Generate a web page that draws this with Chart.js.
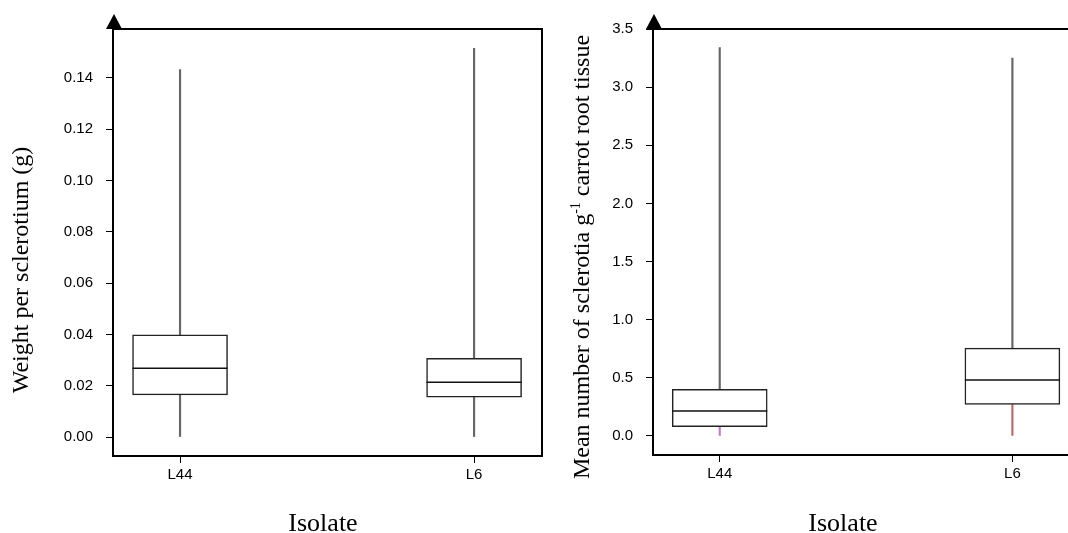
<!DOCTYPE html>
<html lang="en">
<head>
<meta charset="UTF-8">
<title>Sclerotia by isolate</title>
<script src="https://cdn.jsdelivr.net/npm/chart.js"></script>
<style>
  body {
    margin: 0;
    width: 1068px;
    height: 533px;
    overflow: hidden;
    position: relative;
    background: #fff;
    font-family: "Liberation Serif", "Times New Roman", serif;
    color: #000;
  }
  canvas { position: absolute; top: 0; }
  #weightChart { left: 0; }
  #countChart { left: 560px; }
  .title { position: absolute; white-space: nowrap; text-align: center; }
  .xtitle { font-size: 26px; line-height: 26px; width: 200px; top: 510px; }
  .ytitle { font-size: 24px; line-height: 24px; width: 520px; height: 24px; transform: rotate(-90deg); }
  sup { font-size: 14px; line-height: 0; vertical-align: 9px; }
</style>
</head>
<body>
<canvas id="weightChart" width="560" height="533"></canvas>
<canvas id="countChart" width="538" height="533"></canvas>

<div class="title ytitle" style="left:-240px; top:258px;">Weight per sclerotium (g)</div>
<div class="title xtitle" style="left:223px;">Isolate</div>
<div class="title ytitle" style="left:321px; top:245px;">Mean number of sclerotia g<sup>-1</sup> carrot root tissue</div>
<div class="title xtitle" style="left:743px;">Isolate</div>

<script>
const isolates = ['L44', 'L6'];

// weight per sclerotium (g)
const weightMin = [0, 0];
const weightQ1 = [0.0164, 0.0155];
const weightMedian = [0.0268, 0.0213];
const weightQ3 = [0.0398, 0.0307];
const weightMax = [0.1432, 0.1515];
const weightTicks = [0, 0.02, 0.04, 0.06, 0.08, 0.10, 0.12, 0.14];
const weightTickLabels = ['0.00', '0.02', '0.04', '0.06', '0.08', '0.10', '0.12', '0.14'];

// mean number of sclerotia per g of carrot root
const countMin = [0, 0];
const countQ1 = [0.08, 0.27];
const countMedian = [0.215, 0.48];
const countQ3 = [0.40, 0.755];
const countMax = [3.34, 3.25];
const countTicks = [0, 0.5, 1.0, 1.5, 2.0, 2.5, 3.0, 3.5];
const countTickLabels = ['0.0', '0.5', '1.0', '1.5', '2.0', '2.5', '3.0', '3.5'];

const tickFont = { family: 'Arial, "Liberation Sans", sans-serif', size: 15 };

const ranges = (lo, hi) => lo.map((v, i) => ({ x: i, y: [v, hi[i]] }));
const points = (ys) => ys.map((y, i) => ({ x: i, y }));

// top and right edges of the plot box, plus the arrow on the y axis
const framePlugin = {
  id: 'frame',
  afterDraw(chart) {
    const { ctx, chartArea: a } = chart;
    ctx.save();
    ctx.strokeStyle = '#000';
    ctx.lineWidth = 2;
    ctx.beginPath();
    ctx.moveTo(a.left, a.top);
    ctx.lineTo(a.right, a.top);
    ctx.lineTo(a.right, a.bottom);
    ctx.stroke();
    ctx.fillStyle = '#000';
    ctx.beginPath();
    ctx.moveTo(a.left - 7, a.top);
    ctx.lineTo(a.left + 1, a.top - 15);
    ctx.lineTo(a.left + 9, a.top);
    ctx.closePath();
    ctx.fill();
    ctx.restore();
  }
};

function boxChart(id, d) {
  return new Chart(document.getElementById(id), {
    type: 'bar',
    data: {
      datasets: [
        { data: points(d.median), type: 'line', showLine: false, pointStyle: 'line',
          pointRadius: 47.5, borderColor: '#111', borderWidth: 1.5, order: 0 },
        { data: ranges(d.q1, d.q3), backgroundColor: '#fff', borderColor: '#222', borderWidth: 1.5,
          borderSkipped: false, barThickness: 95, grouped: false, order: 1 },
        { data: ranges(d.min, d.q1), backgroundColor: d.lowColor, barThickness: 1.5, grouped: false, order: 2 },
        { data: ranges(d.q3, d.max), backgroundColor: '#666', barThickness: 1.5, grouped: false, order: 2 }
      ]
    },
    options: {
      responsive: false,
      animation: false,
      events: [],
      layout: { autoPadding: false, padding: { top: 29, right: 18, left: 0, bottom: 0 } },
      plugins: { legend: { display: false }, tooltip: { enabled: false } },
      scales: {
        x: {
          type: 'linear',
          min: -0.228,
          max: 1.231,
          offset: false,
          afterBuildTicks: s => { s.ticks = isolates.map((_, i) => ({ value: i })); },
          afterFit: s => { s.height = d.xHeight; },
          ticks: { callback: v => isolates[v], color: '#000', font: tickFont, padding: 3, maxRotation: 0, autoSkip: false },
          grid: { drawOnChartArea: false, drawTicks: true, tickLength: 7, color: '#000', offset: false },
          border: { color: '#000', width: 2 }
        },
        y: {
          min: d.yMin,
          max: d.yMax,
          afterBuildTicks: s => { s.ticks = d.ticks.map(v => ({ value: v })); },
          afterFit: s => { s.width = d.yWidth; },
          ticks: { callback: (v, i) => d.tickLabels[i], color: '#000', font: tickFont, padding: 13, autoSkip: false },
          grid: { drawOnChartArea: false, drawTicks: true, tickLength: 7, color: '#000' },
          border: { color: '#000', width: 2 }
        }
      }
    },
    plugins: [framePlugin]
  });
}

boxChart('weightChart', {
  min: weightMin, q1: weightQ1, median: weightMedian, q3: weightQ3, max: weightMax,
  lowColor: '#666',
  ticks: weightTicks, tickLabels: weightTickLabels,
  yMin: -0.0074, yMax: 0.159, yWidth: 113, xHeight: 77
});

boxChart('countChart', {
  min: countMin, q1: countQ1, median: countMedian, q3: countQ3, max: countMax,
  lowColor: ['#c47ac8', '#b86b6b'],
  ticks: countTicks, tickLabels: countTickLabels,
  yMin: -0.164, yMax: 3.5, yWidth: 93, xHeight: 78
});
</script>
</body>
</html>
